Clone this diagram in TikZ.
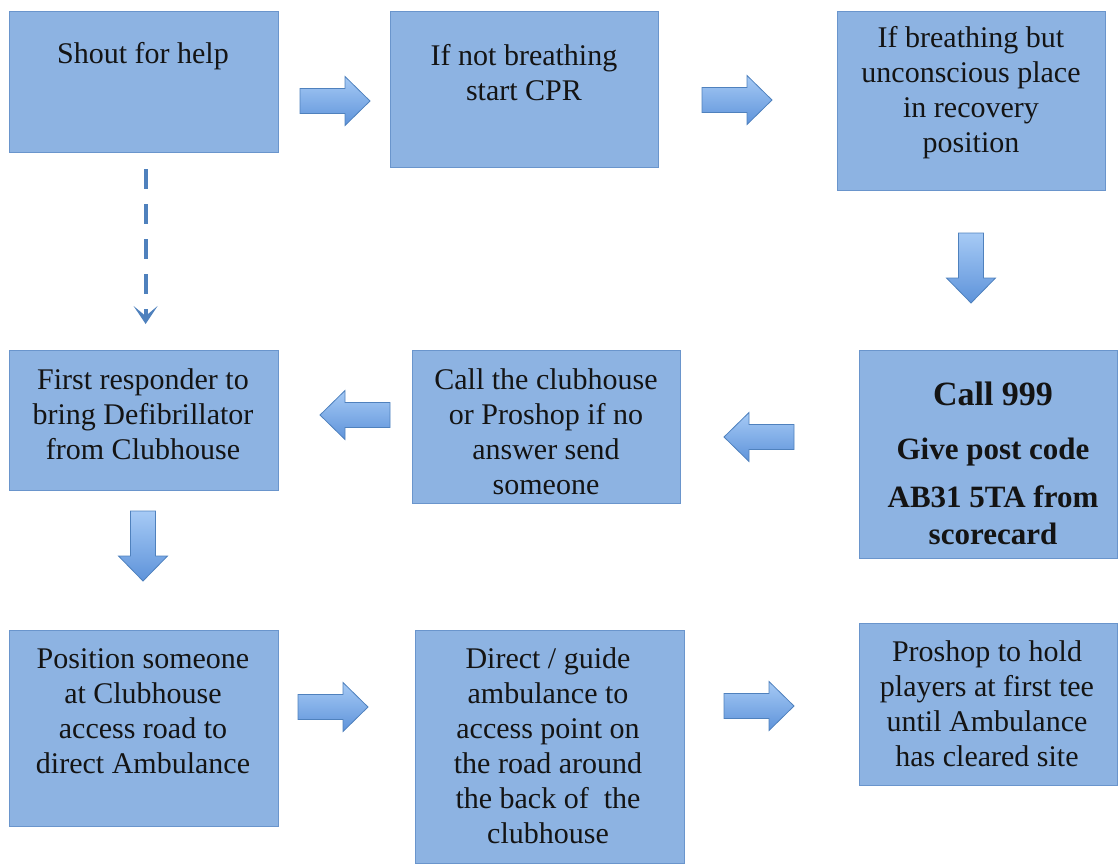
\documentclass[tikz,border=0pt]{standalone}
\usepackage{fontspec}
\setmainfont{Liberation Serif}
\usetikzlibrary{arrows.meta}
\definecolor{boxfill}{HTML}{8DB3E2}
\definecolor{boxline}{HTML}{6A95CC}
\definecolor{arrtop}{HTML}{A6CAF5}
\definecolor{arrbot}{HTML}{5E93DA}
\definecolor{arrline}{HTML}{4F81BD}
\definecolor{txtcol}{HTML}{141414}
\begin{document}
\begin{tikzpicture}[x=1pt,y=-1pt,
  box/.style={draw=boxline, fill=boxfill, line width=1.2pt, inner sep=0pt, anchor=north west},
  txt/.style={align=center, font=\fontsize{30}{35}\selectfont, text=txtcol, inner sep=0pt},
  arrowfill/.style={draw=arrline, line width=0.8pt, top color=arrtop, bottom color=arrbot},
  barrow/.pic={\path[arrowfill] (0,-12.5) -- (45,-12.5) -- (45,-24.5) -- (70,0) -- (45,24.5) -- (45,12.5) -- (0,12.5) -- cycle;},
  dasharrow/.style={draw=arrline, line width=4pt, dash pattern=on 20pt off 15pt, -{Stealth[length=18pt,width=24pt,inset=10pt]}}
 ]
\useasboundingbox (0,0) rectangle (1118,863);

% boxes
\node[box, minimum width=269pt, minimum height=141pt] (b1) at (9,11) {};
\node[box, minimum width=268pt, minimum height=156pt] (b2) at (390,11) {};
\node[box, minimum width=268pt, minimum height=179pt] (b3) at (837,11) {};
\node[box, minimum width=269pt, minimum height=140pt] (b4) at (9,350) {};
\node[box, minimum width=268pt, minimum height=153pt] (b5) at (412,350) {};
\node[box, minimum width=258pt, minimum height=208pt] (b6) at (859,350) {};
\node[box, minimum width=269pt, minimum height=196pt] (b7) at (9,630) {};
\node[box, minimum width=269pt, minimum height=233pt] (b8) at (415,630) {};
\node[box, minimum width=258pt, minimum height=162pt] (b9) at (859,623) {};

% texts
\node[txt] (t1) at (143,56) {Shout for help};
\node[txt] (t2) at (524,73) {If not breathing\\start CPR};
\node[txt] (t3) at (971,93) {If breathing but\\unconscious place\\in recovery\\position};
\node[txt] (t4) at (143,414) {First responder to\\bring Defibrillator\\from Clubhouse};
\node[txt] (t5) at (546,432) {Call the clubhouse\\or Proshop if no\\answer send\\someone};
\node[txt, font=\bfseries\fontsize{31}{37}\selectfont] (t6) at (993,463)
  {{\fontsize{34}{37}\selectfont Call 999}\\[17pt]Give post code\\[11pt]AB31 5TA from\\scorecard};
\node[txt] (t7) at (143,711) {Position someone\\at Clubhouse\\access road to\\direct Ambulance};
\node[txt] (t8) at (548,746) {Direct / guide\\ambulance to\\access point on\\the road around\\the back of~ the\\clubhouse};
\node[txt] (t9) at (987,704) {Proshop to hold\\players at first tee\\until Ambulance\\has cleared site};

% block arrows
\pic at (300,101) {barrow};
\pic at (702,100) {barrow};
\pic[rotate=-90] at (971,233) {barrow};
\pic[rotate=180] at (390,415) {barrow};
\pic[rotate=180] at (794,437) {barrow};
\pic[rotate=-90] at (143,511) {barrow};
\pic at (298,707) {barrow};
\pic at (724,706) {barrow};

% dashed connector
\draw[dasharrow] ([xshift=1.5pt,yshift=-16pt]b1.south) -- ([xshift=1.5pt,yshift=26pt]b4.north);
\end{tikzpicture}
\end{document}
